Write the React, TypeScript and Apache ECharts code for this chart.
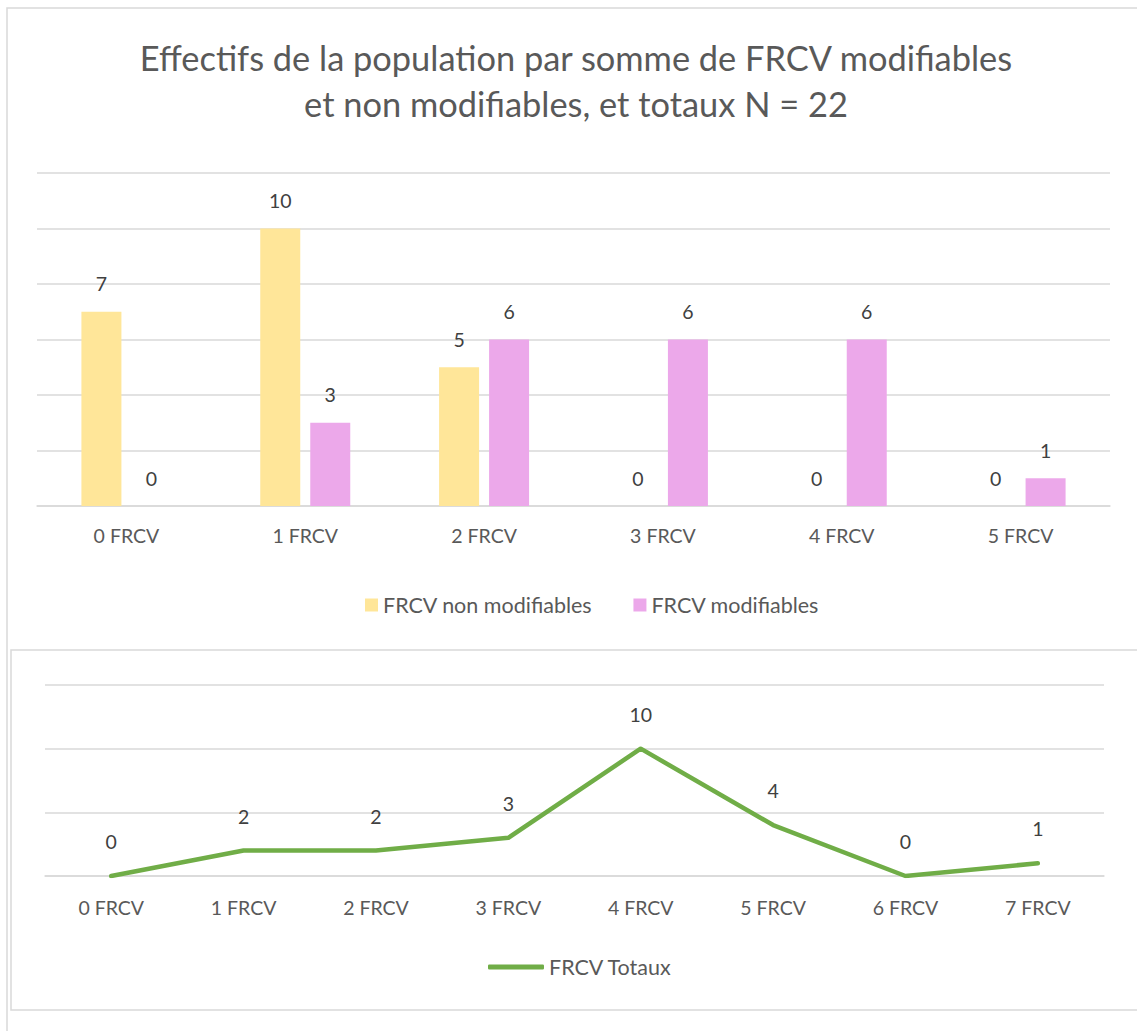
import React, { useEffect, useRef } from "react";
import * as echarts from "echarts";

const categoriesTop = ["0 FRCV", "1 FRCV", "2 FRCV", "3 FRCV", "4 FRCV", "5 FRCV"];
const nonModifiables = [7, 10, 5, 0, 0, 0];
const modifiables = [0, 3, 6, 6, 6, 1];
const categoriesBottom = ["0 FRCV", "1 FRCV", "2 FRCV", "3 FRCV", "4 FRCV", "5 FRCV", "6 FRCV", "7 FRCV"];
const totaux = [0, 2, 2, 3, 10, 4, 0, 1];
const titleLines = [
  "Effectifs de la population par somme de FRCV modifiables",
  "et non modifiables, et totaux N = 22",
];

const FONT = "Lato";
const GRID = "#D9D9D9";
const TXT = "#595959";
const LBL = "#404040";
const AX = 19.5;
const LEG = 21.5;

export default function App() {
  const ref = useRef<HTMLDivElement>(null);
  useEffect(() => {
    if (!ref.current) return;
    const chart = echarts.init(ref.current, null, { renderer: "svg" });
    const dataLabel = {
      show: true,
      position: "top",
      fontSize: AX,
      fontFamily: FONT,
      color: LBL,
    };
    chart.setOption({
      animation: false,
      backgroundColor: "#ffffff",
      textStyle: { fontFamily: FONT },
      graphic: [
        {
          type: "rect",
          z: -10,
          shape: { x: 7, y: 8, width: 1300, height: 1200 },
          style: { fill: "none", stroke: GRID, lineWidth: 1.5 },
        },
        {
          type: "rect",
          z: -10,
          shape: { x: 11, y: 650, width: 1300, height: 360 },
          style: { fill: "none", stroke: GRID, lineWidth: 1.5 },
        },
        {
          type: "text",
          x: 576,
          y: 57,
          style: {
            text: titleLines[0],
            fontFamily: FONT,
            fontSize: 34.4,
            fill: TXT,
            textAlign: "center",
            textVerticalAlign: "middle",
          },
        },
        {
          type: "text",
          x: 576,
          y: 103,
          style: {
            text: titleLines[1],
            fontFamily: FONT,
            fontSize: 34.4,
            fill: TXT,
            textAlign: "center",
            textVerticalAlign: "middle",
          },
        },
      ],
      legend: [
        {
          data: ["FRCV non modifiables", "FRCV modifiables"],
          left: 360,
          top: 589,
          icon: "rect",
          itemWidth: 13,
          itemHeight: 13,
          itemGap: 41,
          textStyle: { fontFamily: FONT, fontSize: LEG, color: TXT },
        },
        {
          data: ["FRCV Totaux"],
          left: 483,
          top: 951,
          icon: "roundRect",
          itemWidth: 56,
          itemHeight: 5,
          textStyle: { fontFamily: FONT, fontSize: LEG, color: TXT },
        },
      ],
      grid: [
        { left: 37, right: 27, top: 173, bottom: 525, containLabel: false },
        { left: 45, right: 33, top: 685, bottom: 155, containLabel: false },
      ],
      xAxis: [
        {
          type: "category",
          gridIndex: 0,
          data: categoriesTop,
          axisLine: { lineStyle: { color: GRID, width: 1.5 } },
          axisTick: { show: false },
          axisLabel: { color: TXT, fontSize: AX, fontFamily: FONT, margin: 19 },
        },
        {
          type: "category",
          gridIndex: 1,
          data: categoriesBottom,
          boundaryGap: true,
          axisLine: { lineStyle: { color: GRID, width: 1.5 } },
          axisTick: { show: false },
          axisLabel: { color: TXT, fontSize: AX, fontFamily: FONT, margin: 21 },
        },
      ],
      yAxis: [
        {
          type: "value",
          gridIndex: 0,
          min: 0,
          max: 12,
          interval: 2,
          axisLabel: { show: false },
          axisLine: { show: false },
          axisTick: { show: false },
          splitLine: { lineStyle: { color: GRID, width: 1.5 } },
        },
        {
          type: "value",
          gridIndex: 1,
          min: 0,
          max: 15,
          interval: 5,
          axisLabel: { show: false },
          axisLine: { show: false },
          axisTick: { show: false },
          splitLine: { lineStyle: { color: GRID, width: 1.5 } },
        },
      ],
      series: [
        {
          name: "FRCV non modifiables",
          type: "bar",
          xAxisIndex: 0,
          yAxisIndex: 0,
          data: nonModifiables,
          barWidth: 40,
          barGap: "25%",
          itemStyle: { color: "#FFE699" },
          label: { ...dataLabel, distance: 18 },
        },
        {
          name: "FRCV modifiables",
          type: "bar",
          xAxisIndex: 0,
          yAxisIndex: 0,
          data: modifiables,
          barWidth: 40,
          barGap: "25%",
          itemStyle: { color: "#ECA8EA" },
          label: { ...dataLabel, distance: 18 },
        },
        {
          name: "FRCV Totaux",
          type: "line",
          xAxisIndex: 1,
          yAxisIndex: 1,
          data: totaux,
          symbol: "circle",
          symbolSize: 1,
          showSymbol: true,
          itemStyle: { color: "#70AD47" },
          lineStyle: { color: "#70AD47", width: 4.5, cap: "round", join: "round" },
          label: { ...dataLabel, distance: 24 },
        },
      ],
    });
    return () => chart.dispose();
  }, []);
  return (
    <div
      ref={ref}
      style={{ position: "absolute", left: 0, top: 0, width: 1137, height: 1031, background: "#fff" }}
    />
  );
}
